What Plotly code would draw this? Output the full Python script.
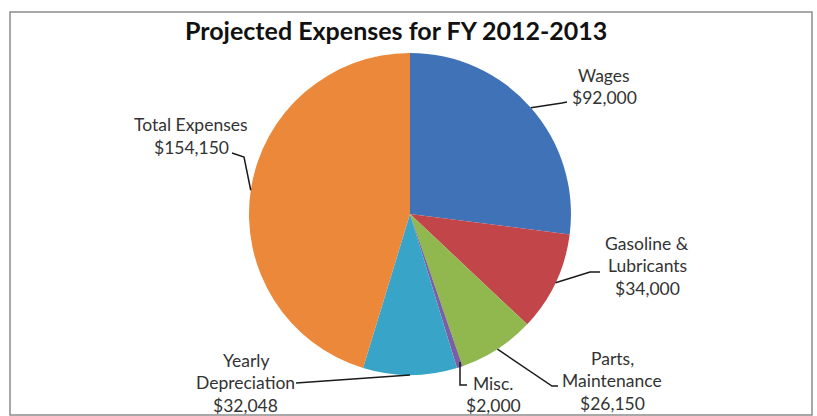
import math
import plotly.graph_objects as go

W, H = 817, 416

categories = ["Wages", "Gasoline & Lubricants", "Parts, Maintenance", "Misc.", "Yearly Depreciation", "Total Expenses"]
values = [92000, 34000, 26150, 2000, 32048, 154150]
colors = ["#4072B8", "#C2454A", "#90B84E", "#7A5FA2", "#38A5C8", "#EB883A"]
label_lines = [
    ["Wages", "$92,000"],
    ["Gasoline &", "Lubricants", "$34,000"],
    ["Parts,", "Maintenance", "$26,150"],
    ["Misc.", "$2,000"],
    ["Yearly", "Depreciation", "$32,048"],
    ["Total Expenses", "$154,150"],
]
title_text = "Projected Expenses for FY 2012-2013"

# layout (pixels)
cx, cy, R = 410, 214, 161
label_pos = [  # (x center, first line y, anchor)
    (604, 75, "center"),
    (647, 243, "center"),
    (612, 358, "center"),
    (471, 383, "left"),
    (246, 360, "center"),
    (191, 125, "center"),
]
line_gap = 22.5
leader_bends = [
    [(562, 103), (567, 102)],
    [(590, 272), (600, 272)],
    [(552, 386), (558, 386)],
    [(460, 385), (467, 385)],
    [(296, 383)],
    [(244, 157), (232, 153)],
]

def px(x):
    return x / W

def py(y):
    return 1 - y / H

fig = go.Figure()
fig.add_trace(go.Pie(
    labels=categories, values=values, sort=False, direction="clockwise", rotation=0,
    marker=dict(colors=colors, line=dict(width=0)),
    textinfo="none", hoverinfo="label+value", showlegend=False,
    domain=dict(x=[px(cx - R), px(cx + R)], y=[py(cy + R), py(cy - R)]),
))

shapes = [dict(type="rect", xref="paper", yref="paper", x0=px(10), x1=px(812), y0=py(415), y1=py(12),
               line=dict(color="#8C8C8C", width=1.5))]
total = sum(values)
cum = 0
anns = []
for i, v in enumerate(values):
    mid = (cum + v / 2) / total
    cum += v
    ang = 2 * math.pi * mid
    ax, ay = cx + R * math.sin(ang), cy - R * math.cos(ang)
    if i == 3:
        ax, ay = 460, 362
    pts = [(ax, ay)] + leader_bends[i]
    path = "M " + " L ".join(f"{px(x)},{py(y)}" for x, y in pts)
    shapes.append(dict(type="path", xref="paper", yref="paper", path=path,
                       line=dict(color="#1a1a1a", width=1.5)))
    lx, ly, anc = label_pos[i]
    for j, t in enumerate(label_lines[i]):
        xa = anc
        x_here = lx
        if i == 3 and j == 1:
            xa = "center"
            x_here = 494
            yv = 405
        else:
            yv = ly + j * line_gap
        anns.append(dict(text=t, xref="paper", yref="paper", x=px(x_here), y=py(yv),
                         xanchor=xa, yanchor="middle", showarrow=False,
                         font=dict(family="Lato", size=17.5, color="#333333")))

anns.append(dict(text="<b>" + title_text + "</b>", xref="paper", yref="paper", x=px(396), y=py(30),
                 xanchor="center", yanchor="middle", showarrow=False,
                 font=dict(family="Lato", size=25, color="#111111")))

fig.update_layout(width=W, height=H, margin=dict(l=0, r=0, t=0, b=0),
                  paper_bgcolor="white", plot_bgcolor="white",
                  shapes=shapes, annotations=anns)
fig.write_html("out.html", config={"displayModeBar": False},
               post_script="document.body.style.margin='0';document.body.style.overflow='hidden';")
